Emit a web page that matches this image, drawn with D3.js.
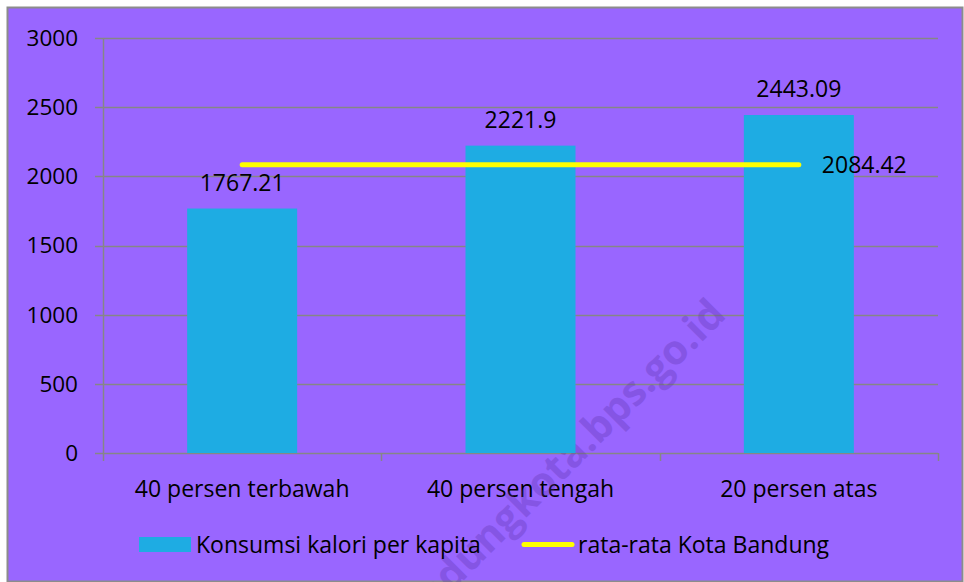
<!DOCTYPE html>
<html>
<head>
<meta charset="utf-8">
<script src="https://d3js.org/d3.v7.min.js"></script>
<style>
  body { margin: 0; background: #fff; }
  svg text { font-family: "Open Sans", sans-serif; fill: #000; }
</style>
</head>
<body>
<svg id="chart"></svg>
<script>
var categories = ["40 persen terbawah", "40 persen tengah", "20 persen atas"];
var kalori = [1767.21, 2221.9, 2443.09];
var rataRata = [2084.42, 2084.42, 2084.42];
var yTicks = [0, 500, 1000, 1500, 2000, 2500, 3000];

var width = 964, height = 582;
var fs = "23px";
var svg = d3.select("#chart").attr("width", width).attr("height", height);

// chart background + frame
svg.append("rect")
  .attr("x", 7.5).attr("y", 7.5)
  .attr("width", width - 9).attr("height", height - 8)
  .attr("fill", "#9966FF")
  .attr("stroke", "#8c8c8c")
  .attr("stroke-width", 2);

var pLeft = 103, pRight = 938, pTop = 38, pBottom = 453;

var x = d3.scaleBand().domain(categories).range([pLeft, pRight]).paddingInner(0).paddingOuter(0);
var y = d3.scaleLinear().domain([0, 3000]).range([pBottom, pTop]);

// gridlines
svg.append("g")
  .selectAll("line")
  .data(yTicks)
  .join("line")
  .attr("x1", pLeft - 8).attr("x2", pRight)
  .attr("y1", function(d) { return Math.round(y(d)) + 0.5; })
  .attr("y2", function(d) { return Math.round(y(d)) + 0.5; })
  .attr("stroke", "#868686")
  .attr("stroke-width", 1.5);

// y axis line
svg.append("line")
  .attr("x1", pLeft + 0.5).attr("x2", pLeft + 0.5)
  .attr("y1", pTop).attr("y2", pBottom)
  .attr("stroke", "#868686").attr("stroke-width", 1.5);

// y tick labels
svg.append("g")
  .selectAll("text")
  .data(yTicks)
  .join("text")
  .attr("x", 78)
  .attr("y", function(d) { return y(d); })
  .attr("dy", "0.35em")
  .attr("text-anchor", "end")
  .style("font-size", "22.5px")
  .text(function(d) { return d; });

// category tick marks
var xEdges = categories.map(function(c) { return x(c); }).concat([pRight]);
svg.append("g")
  .selectAll("line")
  .data(xEdges)
  .join("line")
  .attr("x1", function(d) { return Math.round(d) + 0.5; })
  .attr("x2", function(d) { return Math.round(d) + 0.5; })
  .attr("y1", pBottom).attr("y2", pBottom + 8)
  .attr("stroke", "#868686").attr("stroke-width", 1.5);

// category labels
svg.append("g")
  .selectAll("text")
  .data(categories)
  .join("text")
  .attr("x", function(d) { return x(d) + x.bandwidth() / 2; })
  .attr("y", 489)
  .attr("dy", "0.35em")
  .attr("text-anchor", "middle")
  .style("font-size", fs)
  .text(function(d) { return d; });

// watermark
svg.append("text")
  .attr("transform", "translate(562,482) rotate(-45)")
  .attr("text-anchor", "middle")
  .style("font-size", "41px")
  .style("font-weight", "bold")
  .style("fill", "#5a2fa8")
  .style("opacity", 0.3)
  .text("bandungkota.bps.go.id");

// bars
var barW = 110;
svg.append("g")
  .selectAll("rect")
  .data(kalori)
  .join("rect")
  .attr("x", function(d, i) { return x(categories[i]) + x.bandwidth() / 2 - barW / 2; })
  .attr("y", function(d) { return y(d); })
  .attr("width", barW)
  .attr("height", function(d) { return pBottom - y(d); })
  .attr("fill", "#1EACE3");

// bar value labels
svg.append("g")
  .selectAll("text")
  .data(kalori)
  .join("text")
  .attr("x", function(d, i) { return x(categories[i]) + x.bandwidth() / 2; })
  .attr("y", function(d) { return y(d) - 18; })
  .attr("text-anchor", "middle")
  .style("font-size", fs)
  .text(function(d) { return d; });

// average line
var line = d3.line()
  .x(function(d, i) { return x(categories[i]) + x.bandwidth() / 2; })
  .y(function(d) { return y(d); });

svg.append("path")
  .datum(rataRata)
  .attr("d", line)
  .attr("fill", "none")
  .attr("stroke", "#FFFF00")
  .attr("stroke-width", 5)
  .attr("stroke-linecap", "round");

var last = rataRata.length - 1;
svg.append("text")
  .attr("x", x(categories[last]) + x.bandwidth() / 2 + 23)
  .attr("y", y(rataRata[last]))
  .attr("dy", "0.35em")
  .style("font-size", fs)
  .text(rataRata[last]);

// legend
var lg = svg.append("g");
lg.append("rect")
  .attr("x", 139).attr("y", 537).attr("width", 52).attr("height", 15)
  .attr("fill", "#1EACE3");
lg.append("text")
  .attr("x", 196).attr("y", 545).attr("dy", "0.35em")
  .style("font-size", fs)
  .text("Konsumsi kalori per kapita");
lg.append("line")
  .attr("x1", 524).attr("x2", 572).attr("y1", 544.5).attr("y2", 544.5)
  .attr("stroke", "#FFFF00").attr("stroke-width", 5).attr("stroke-linecap", "round");
lg.append("text")
  .attr("x", 578).attr("y", 545).attr("dy", "0.35em")
  .style("font-size", fs)
  .text("rata-rata Kota Bandung");
</script>
</body>
</html>
